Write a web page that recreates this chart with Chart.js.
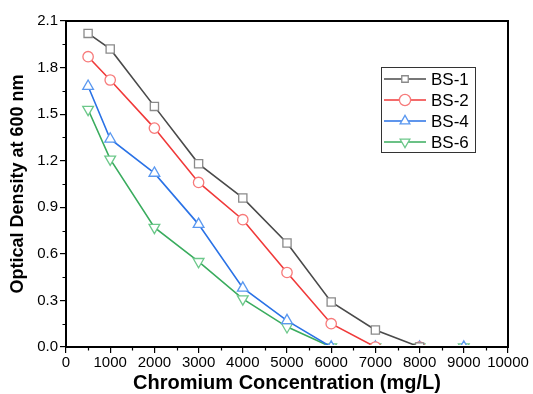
<!DOCTYPE html>
<html>
<head>
<meta charset="utf-8">
<script src="https://cdn.jsdelivr.net/npm/chart.js@4"></script>
<style>
  html, body { margin: 0; padding: 0; background: #fff; }
  #wrap { width: 533px; height: 394px; }
</style>
</head>
<body>
<div id="wrap"><canvas id="c" width="533" height="394"></canvas></div>
<script>
// ---- Data ----
const concentrations = [500, 1000, 2000, 3000, 4000, 5000, 6000, 7000, 8000, 9000];
const bs1 = [2.02, 1.92, 1.55, 1.18, 0.96, 0.67, 0.29, 0.11, 0.0, null];
const bs2 = [1.87, 1.72, 1.41, 1.06, 0.82, 0.48, 0.15, 0.0, 0.0, null];
const bs4 = [1.68, 1.34, 1.12, 0.79, 0.38, 0.17, 0.0, 0.0, 0.0, 0.0];
const bs6 = [1.53, 1.21, 0.77, 0.55, 0.31, 0.13, 0.0, 0.0, 0.0, 0.0];
const seriesNames = ['BS-1', 'BS-2', 'BS-4', 'BS-6'];
const xTicks = [0, 1000, 2000, 3000, 4000, 5000, 6000, 7000, 8000, 9000, 10000];
const yTicks = [0.0, 0.3, 0.6, 0.9, 1.2, 1.5, 1.8, 2.1];

const lineColors = ['#4a4a4a', '#f03a3a', '#2a72e6', '#3aac5e'];
const markerColors = ['#8a8a8a', '#f77a7a', '#5a98f0', '#6cc88a'];
const markerStyles = ['rect', 'circle', 'triangle', 'triangle'];
const markerRot = [0, 0, 0, 180];
const markerRadius = [5.8, 5.2, 6.2, 6.2];

const FONT = '"Liberation Sans", Arial, sans-serif';
const allValues = [bs1, bs2, bs4, bs6];

const datasets = allValues.map((vals, i) => ({
  label: seriesNames[i],
  data: concentrations.map((x, j) => vals[j] === null ? null : { x: x, y: vals[j] }).filter(p => p !== null),
  borderColor: lineColors[i],
  borderWidth: 1.6,
  pointStyle: markerStyles[i],
  rotation: markerRot[i],
  pointRadius: markerRadius[i],
  pointBorderColor: markerColors[i],
  pointBackgroundColor: '#ffffff',
  pointBorderWidth: 1.3,
  tension: 0,
  fill: false,
  clip: { left: 8, right: 8, top: 8, bottom: -2 }
}));

const framePlugin = {
  id: 'frame',
  afterDraw(chart) {
    const { ctx, chartArea: a, scales } = chart;
    ctx.save();
    // minor ticks
    ctx.strokeStyle = '#000';
    ctx.lineWidth = 1.2;
    ctx.beginPath();
    for (let v = 500; v < 10000; v += 1000) {
      const px = Math.round(scales.x.getPixelForValue(v)) + 0.5;
      ctx.moveTo(px, a.bottom);
      ctx.lineTo(px, a.bottom + 3.5);
    }
    for (let v = 0.15; v < 2.1; v += 0.3) {
      const py = Math.round(scales.y.getPixelForValue(v)) + 0.5;
      ctx.moveTo(a.left, py);
      ctx.lineTo(a.left - 3.5, py);
    }
    ctx.stroke();
    // frame
    ctx.lineWidth = 2;
    ctx.strokeStyle = '#000';
    ctx.strokeRect(a.left, a.top, a.right - a.left, a.bottom - a.top);
    // legend
    const bx = 381, by = 67, bw = 94, bh = 85;
    ctx.lineWidth = 1;
    ctx.strokeStyle = '#333';
    ctx.fillStyle = '#fff';
    ctx.fillRect(bx, by, bw, bh);
    ctx.strokeRect(bx + 0.5, by + 0.5, bw, bh);
    ctx.font = '17px ' + FONT;
    ctx.textBaseline = 'middle';
    ctx.textAlign = 'left';
    seriesNames.forEach((name, i) => {
      const y = 79 + i * 21;
      ctx.strokeStyle = lineColors[i];
      ctx.lineWidth = 1.6;
      ctx.beginPath();
      ctx.moveTo(384, y);
      ctx.lineTo(426, y);
      ctx.stroke();
      ctx.fillStyle = '#fff';
      ctx.strokeStyle = markerColors[i];
      ctx.lineWidth = 1.3;
      Chart.helpers.drawPoint(ctx, {
        pointStyle: markerStyles[i],
        rotation: markerRot[i],
        radius: markerStyles[i] === 'rect' ? 4.6 : 5.6,
        borderWidth: 1.3
      }, 405, y);
      ctx.fillStyle = '#000';
      ctx.fillText(name, 431, y + 1);
    });
    ctx.restore();
  }
};

new Chart(document.getElementById('c'), {
  type: 'line',
  data: { datasets: datasets },
  options: {
    responsive: false,
    animation: false,
    devicePixelRatio: 1,
    layout: { padding: { top: 21, right: 25, left: 0, bottom: 0 } },
    plugins: { legend: { display: false }, tooltip: { enabled: false } },
    scales: {
      x: {
        type: 'linear',
        min: 0, max: 10000,
        afterBuildTicks(scale) { scale.ticks = xTicks.map(v => ({ value: v })); },
        afterFit(scale) { scale.height = 47; },
        ticks: {
          autoSkip: false, maxRotation: 0, padding: 1,
          color: '#000',
          font: { family: FONT, size: 15 },
          callback: v => String(v)
        },
        grid: { drawOnChartArea: false, drawTicks: true, tickLength: 6, color: '#000', lineWidth: 1.2 },
        border: { display: true, color: '#000', width: 2 },
        title: {
          display: true, text: 'Chromium Concentration (mg/L)',
          color: '#000', padding: { top: 0, bottom: 0 },
          font: { family: FONT, size: 20, weight: 'bold', lineHeight: 1.1 }
        }
      },
      y: {
        type: 'linear',
        min: 0, max: 2.1,
        afterBuildTicks(scale) { scale.ticks = yTicks.map(v => ({ value: v })); },
        afterFit(scale) { scale.width = 66; },
        ticks: {
          autoSkip: false, padding: 2,
          color: '#000',
          font: { family: FONT, size: 15 },
          callback: v => Number(v).toFixed(1)
        },
        grid: { drawOnChartArea: false, drawTicks: true, tickLength: 6, color: '#000', lineWidth: 1.2 },
        border: { display: true, color: '#000', width: 2 },
        title: {
          display: true, text: 'Optical Density at 600 nm',
          color: '#000', padding: { top: 8, bottom: 0 },
          font: { family: FONT, size: 18, weight: 'bold', lineHeight: 1.1 }
        }
      }
    }
  },
  plugins: [framePlugin]
});
</script>
</body>
</html>
